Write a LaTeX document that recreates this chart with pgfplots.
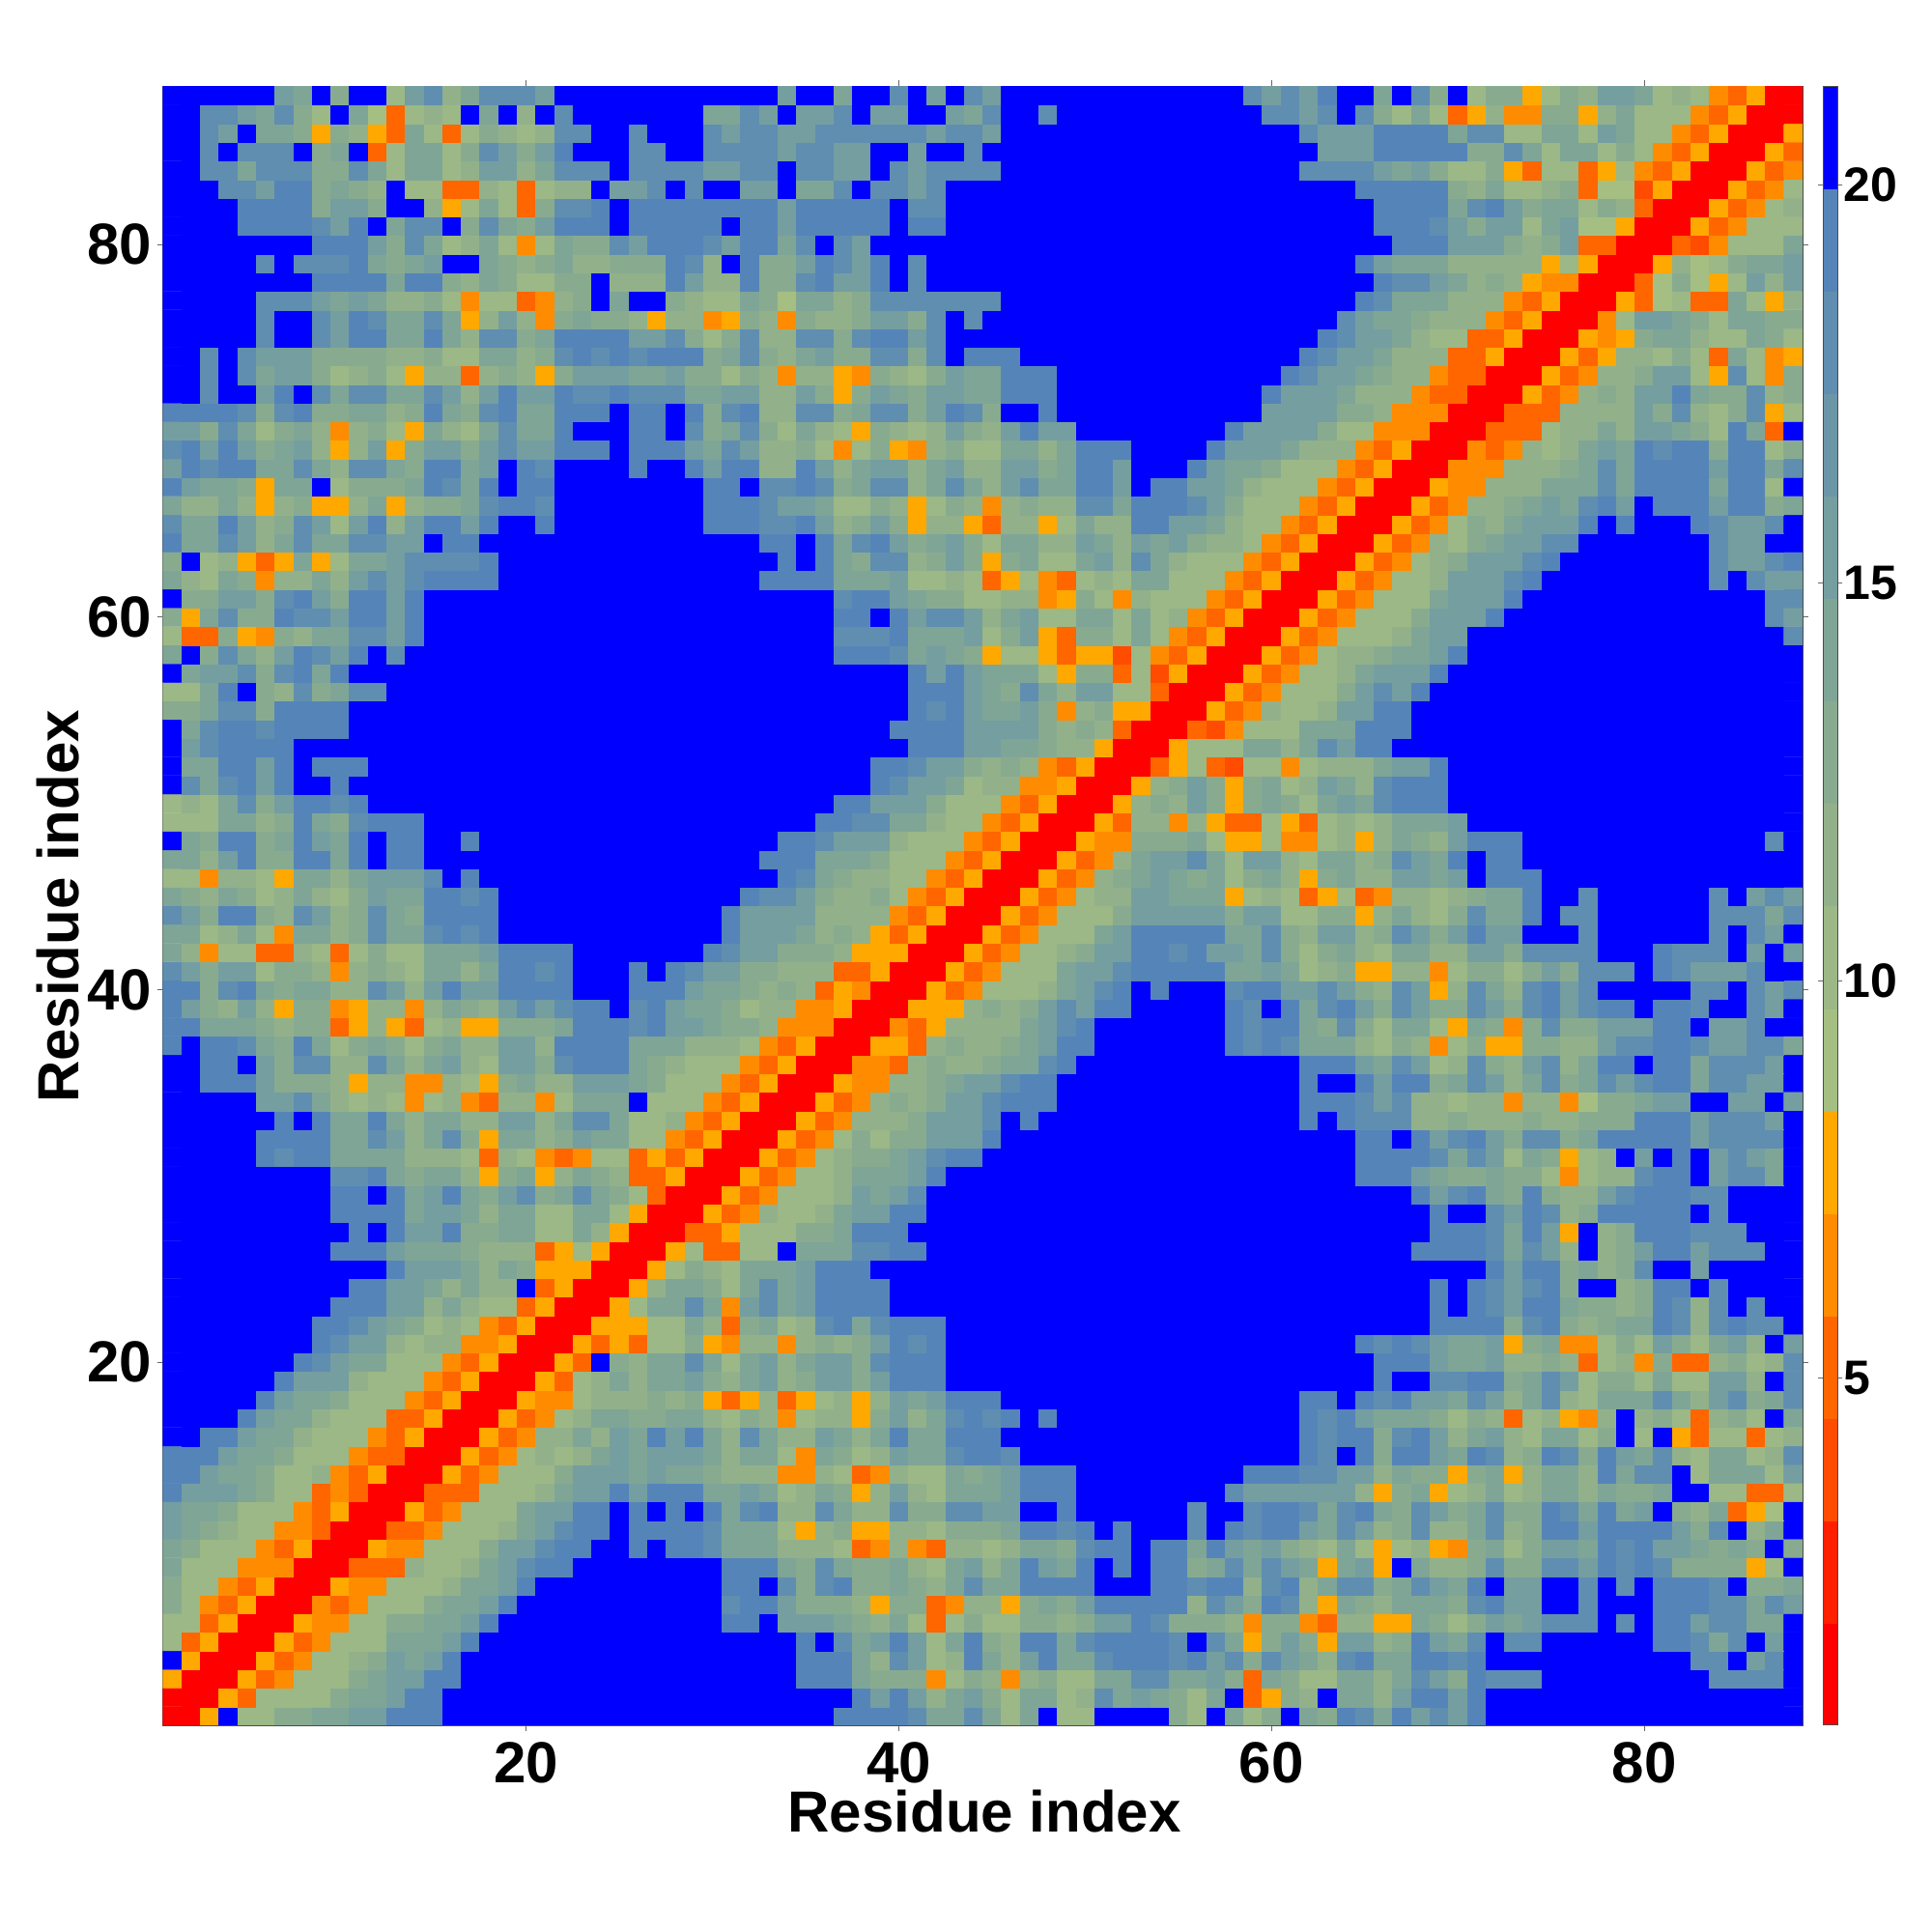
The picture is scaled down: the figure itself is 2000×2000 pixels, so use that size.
\documentclass[border=0pt]{standalone}
\usepackage{pgfplots}
\pgfplotsset{compat=1.18}
\usepackage{fontspec}
\setmainfont{Liberation Sans}

% the map is symmetric: each row y holds the distances for x=1..y
\newcount\ci
\def\setrow#1#2{\def\rowy{#1}\ci=0 \scanrow#2 {\relax} }
\def\scanrow#1 {\ifx\relax#1\else
  \advance\ci by1
  \expandafter\xdef\csname m\the\ci:\rowy\endcsname{#1}%
  \expandafter\scanrow\fi}

\setrow{88}{21 21 21 21 21 21 15 14 21 13 21 21 10 15 18 12 14 18 18 18 15 21 21 21 21 21 21 21 21 21 21 21 21 15 21 21 14 21 21 18 21 15 21 18 15 21 21 21 21 21 21 21 21 21 21 21 21 21 18 15 18 15 19 21 21 14 21 18 13 21 10 13 13 8 10 13 12 15 15 14 10 12 10 7 5 8 1 1}
\setrow{87}{21 21 18 18 15 14 18 13 10 21 14 9 5 10 12 10 21 14 21 12 21 18 21 21 21 21 21 21 21 14 14 18 15 21 15 15 18 21 15 15 21 21 15 14 18 21 21 18 21 21 21 21 21 21 21 21 21 21 21 18 18 15 18 21 18 13 10 14 10 5 8 12 7 7 13 13 8 12 14 10 10 10 7 5 8 1 1}
\setrow{86}{21 21 18 15 21 14 14 13 8 13 12 8 5 14 10 5 10 13 12 10 12 18 18 21 21 18 21 21 21 18 15 18 18 15 15 18 18 18 18 18 18 15 18 18 15 21 21 21 21 21 21 21 21 21 21 21 21 21 21 21 21 18 15 15 15 19 19 19 19 14 18 18 10 10 14 14 10 15 14 10 10 7 5 8 1 1}
\setrow{85}{21 21 18 21 18 18 18 21 13 14 21 5 10 14 14 10 13 18 15 13 15 19 21 21 21 18 18 21 21 18 18 18 18 15 18 18 15 15 21 21 15 21 21 18 21 21 21 21 21 21 21 21 21 21 21 21 21 21 21 21 21 21 15 15 15 19 19 19 19 19 13 13 18 14 10 14 14 10 13 10 7 5 8 1 1}
\setrow{84}{21 21 18 18 14 18 18 18 13 13 18 14 10 14 14 10 12 15 15 12 14 18 18 18 21 18 18 18 18 15 15 18 18 21 18 18 15 15 21 18 15 18 18 18 18 21 21 21 21 21 21 21 21 21 21 21 21 21 21 21 21 18 18 18 18 15 14 15 13 10 10 13 8 5 10 10 5 8 10 7 5 8 1 1}
\setrow{83}{21 21 21 18 18 15 19 19 13 14 13 12 21 10 10 5 5 12 10 5 10 12 12 21 15 15 18 21 18 21 21 15 15 21 14 14 18 21 18 18 15 18 21 21 21 21 21 21 21 21 21 21 21 21 21 21 21 21 21 21 21 21 21 21 19 19 19 19 19 13 12 14 10 10 12 13 5 9 9 4 8 1 1}
\setrow{82}{21 21 21 21 19 19 19 19 13 15 15 13 21 21 12 8 10 14 10 5 13 18 18 19 21 19 19 19 19 19 19 19 19 15 19 19 19 19 19 21 18 18 21 21 21 21 21 21 21 21 21 21 21 21 21 21 21 21 21 21 21 21 21 21 21 19 19 19 19 14 18 19 15 13 14 14 10 13 12 5 1 1}
\setrow{81}{21 21 21 21 19 19 19 19 18 15 19 21 14 18 18 21 13 18 14 13 15 19 19 19 21 19 19 19 19 19 21 19 19 15 19 19 19 19 19 21 19 19 21 21 21 21 21 21 21 21 21 21 21 21 21 21 21 21 21 21 21 21 21 21 21 19 19 19 18 15 13 15 15 10 14 15 9 9 8 1 1}
\setrow{80}{21 21 21 21 21 21 21 21 19 19 19 15 13 18 14 10 12 14 10 7 10 14 13 13 18 15 19 19 19 18 15 19 19 14 18 21 18 15 21 21 21 21 21 21 21 21 21 21 21 21 21 21 21 21 21 21 21 21 21 21 21 21 21 21 21 21 19 19 19 15 15 15 13 12 13 15 5 5 1 1}
\setrow{79}{21 21 21 21 21 18 21 18 18 18 19 14 13 14 15 21 21 14 13 12 13 14 12 12 13 13 13 19 18 12 21 19 13 13 15 19 18 15 19 21 18 21 21 21 21 21 21 21 21 21 21 21 21 21 21 21 21 21 21 21 21 21 21 21 19 15 14 14 14 12 12 12 12 12 8 10 8 1 1}
\setrow{78}{21 21 21 21 21 21 21 21 19 19 19 19 14 19 19 13 12 14 13 10 10 13 13 21 12 12 12 19 15 12 12 19 13 13 18 19 15 15 19 21 18 21 21 21 21 21 21 21 21 21 21 21 21 21 21 21 21 21 21 21 21 21 21 21 21 19 18 18 15 14 12 13 12 8 7 7 1 1}
\setrow{77}{21 21 21 21 21 18 18 18 15 14 15 14 12 12 13 10 7 10 10 5 7 12 13 21 14 21 21 13 12 10 10 14 13 9 14 14 12 13 18 18 18 18 18 18 18 21 21 21 21 21 21 21 21 21 21 21 21 21 21 21 21 21 21 21 19 18 14 14 14 12 12 12 7 5 8 1 1}
\setrow{76}{21 21 21 21 21 18 21 21 18 15 19 18 14 14 18 14 8 12 15 12 7 13 14 13 13 12 8 12 12 7 8 13 12 7 13 12 12 13 15 15 13 18 21 18 21 21 21 21 21 21 21 21 21 21 21 21 21 21 21 21 21 21 21 18 15 14 14 13 12 12 12 7 5 8 1 1}
\setrow{75}{21 21 21 21 21 18 21 21 18 15 19 19 14 14 19 14 12 18 18 13 14 19 19 19 19 15 15 18 13 10 13 18 12 12 18 18 13 18 19 19 15 18 21 21 21 21 21 21 21 21 21 21 21 21 21 21 21 21 21 21 21 21 19 18 15 15 14 12 10 10 5 5 8 1 1}
\setrow{74}{21 21 18 21 18 15 15 15 13 13 13 13 12 12 13 10 10 14 14 12 13 18 19 18 19 18 19 19 19 13 14 18 13 12 14 15 13 13 18 18 13 18 21 19 19 19 21 21 21 21 21 21 21 21 21 21 21 21 21 21 21 19 18 15 15 14 12 12 12 5 5 8 1 1}
\setrow{73}{21 21 18 21 18 14 15 15 13 10 12 13 10 8 12 12 5 12 13 12 8 13 15 15 15 14 14 15 13 13 10 13 12 7 12 12 8 7 13 12 10 13 15 14 14 19 19 19 21 21 21 21 21 21 21 21 21 21 21 21 19 18 15 15 14 13 12 12 7 5 5 1 1}
\setrow{72}{21 21 18 21 21 15 19 21 18 14 18 18 14 14 18 15 12 15 19 15 15 19 18 18 19 18 18 18 14 14 15 15 12 12 15 13 8 13 15 14 13 15 15 14 14 19 19 19 21 21 21 21 21 21 21 21 21 21 21 19 15 15 15 14 12 12 12 7 5 5 1 1}
\setrow{71}{19 19 19 19 18 13 18 19 13 13 14 14 12 13 19 14 13 18 19 14 14 19 19 19 21 19 19 21 19 13 18 19 12 12 18 18 13 14 18 18 13 15 19 18 13 21 21 19 21 21 21 21 21 21 21 21 21 21 21 15 15 15 15 13 13 12 7 7 7 1 1}
\setrow{70}{15 15 13 18 14 10 13 14 12 7 12 13 10 8 14 12 10 14 18 14 14 19 21 21 21 19 19 21 18 13 14 18 13 10 14 12 10 8 13 12 10 12 15 13 12 15 19 15 15 21 21 21 21 21 21 21 21 19 15 15 15 15 13 10 10 7 7 7 1 1}
\setrow{69}{18 19 15 19 15 13 14 15 12 8 12 15 8 13 15 15 13 15 18 15 15 19 19 19 21 19 19 19 15 14 18 15 12 12 13 10 7 10 13 8 7 12 13 10 10 14 14 12 14 19 19 19 21 21 21 21 19 15 15 15 14 12 12 12 7 5 8 1 1}
\setrow{68}{15 19 18 19 19 14 14 18 14 12 18 18 14 13 19 19 14 15 21 19 18 21 21 21 21 19 21 21 19 15 19 19 12 12 19 15 12 14 15 15 12 14 15 12 12 15 15 13 14 19 19 15 21 21 21 19 15 14 14 13 10 10 10 7 5 8 1 1}
\setrow{67}{19 15 14 14 13 8 14 14 21 10 13 13 13 14 19 18 14 19 21 19 19 21 21 21 21 21 21 21 21 19 19 21 18 18 19 18 13 14 18 18 12 14 18 14 12 15 18 14 14 19 19 15 21 19 19 15 15 14 12 10 10 10 7 5 8 1 1}
\setrow{66}{14 12 12 14 12 8 12 13 8 8 12 14 8 12 13 13 14 18 19 19 18 21 21 21 21 21 21 21 21 19 19 19 18 15 15 14 10 10 13 12 8 10 13 12 7 12 13 12 12 18 18 14 19 19 19 18 15 13 10 10 10 7 5 8 1 1}
\setrow{65}{18 14 14 19 15 12 13 18 15 10 15 19 12 15 19 19 15 19 21 21 19 21 21 21 21 21 21 21 21 19 19 19 18 18 19 15 12 13 15 13 8 12 12 8 5 12 12 8 10 14 12 12 19 19 15 15 14 12 10 10 7 5 8 1 1}
\setrow{64}{19 14 14 18 15 12 14 18 14 14 18 18 15 15 21 19 19 21 21 21 21 21 21 21 21 21 21 21 21 21 21 21 19 19 21 19 14 18 19 15 13 14 15 13 10 14 14 12 12 15 14 12 15 14 15 13 12 12 10 7 5 8 1 1}
\setrow{63}{13 21 10 12 8 5 8 14 8 10 14 14 15 18 18 18 18 19 21 21 21 21 21 21 21 21 21 21 21 21 21 21 21 19 21 19 14 13 18 18 12 13 15 13 8 13 14 10 10 14 15 12 18 14 12 10 10 10 7 5 8 1 1}
\setrow{62}{14 12 10 14 13 7 12 12 14 12 15 18 15 18 19 19 19 19 21 21 21 21 21 21 21 21 21 21 21 21 21 21 19 19 19 19 14 14 14 15 10 10 12 10 5 8 10 7 5 10 12 10 14 14 10 10 10 7 5 8 1 1}
\setrow{61}{21 13 13 15 15 13 18 19 15 13 19 19 15 19 21 21 21 21 21 21 21 21 21 21 21 21 21 21 21 21 21 21 21 21 21 21 18 19 19 15 14 13 13 10 10 12 12 7 8 13 10 7 12 10 10 10 7 5 8 1 1}
\setrow{60}{13 8 14 18 13 13 19 18 18 15 19 19 15 19 21 21 21 21 21 21 21 21 21 21 21 21 21 21 21 21 21 21 21 21 21 21 19 19 21 19 15 18 18 15 12 14 15 10 10 14 14 10 14 10 12 7 5 8 1 1}
\setrow{59}{10 5 5 13 8 7 13 12 14 14 18 18 15 19 21 21 21 21 21 21 21 21 21 21 21 21 21 21 21 21 21 21 21 21 21 21 18 18 18 19 14 14 14 15 10 13 15 8 5 13 13 10 14 10 7 5 8 1 1}
\setrow{58}{14 21 13 18 14 12 15 19 18 15 19 21 18 21 21 21 21 21 21 21 21 21 21 21 21 21 21 21 21 21 21 21 21 21 21 21 19 19 19 18 14 15 14 13 8 10 10 8 5 8 8 4 10 7 5 8 1 1}
\setrow{57}{21 14 15 15 18 13 18 19 14 19 21 21 21 21 21 21 21 21 21 21 21 21 21 21 21 21 21 21 21 21 21 21 21 21 21 21 21 21 21 21 19 15 19 15 14 14 14 10 8 13 13 5 10 4 8 1 1}
\setrow{56}{10 10 14 19 21 13 12 18 13 14 18 18 21 21 21 21 21 21 21 21 21 21 21 21 21 21 21 21 21 21 21 21 21 21 21 21 21 21 21 21 19 19 19 15 14 13 18 14 12 15 15 10 10 5 1 1}
\setrow{55}{13 13 14 18 18 13 19 19 19 19 21 21 21 21 21 21 21 21 21 21 21 21 21 21 21 21 21 21 21 21 21 21 21 21 21 21 21 21 21 21 19 18 19 15 14 14 15 13 7 12 13 8 8 1 1}
\setrow{54}{21 14 18 19 19 18 19 19 19 19 21 21 21 21 21 21 21 21 21 21 21 21 21 21 21 21 21 21 21 21 21 21 21 21 21 21 21 21 21 19 19 19 19 15 15 15 15 13 12 13 12 5 1 1}
\setrow{53}{21 15 18 19 19 19 19 21 21 21 21 21 21 21 21 21 21 21 21 21 21 21 21 21 21 21 21 21 21 21 21 21 21 21 21 21 21 21 21 21 19 19 19 15 15 14 14 13 12 12 8 1 1}
\setrow{52}{21 14 14 19 19 15 19 21 19 19 19 21 21 21 21 21 21 21 21 21 21 21 21 21 21 21 21 21 21 21 21 21 21 21 21 21 21 21 19 19 18 15 15 13 12 13 12 7 5 8 1 1}
\setrow{51}{21 18 14 18 19 15 19 21 21 19 21 21 21 21 21 21 21 21 21 21 21 21 21 21 21 21 21 21 21 21 21 21 21 21 21 21 21 21 19 18 15 15 14 10 12 12 7 7 8 1 1}
\setrow{50}{10 12 10 14 18 13 15 19 19 18 19 21 21 21 21 21 21 21 21 21 21 21 21 21 21 21 21 21 21 21 21 21 21 21 21 21 19 19 15 15 15 13 10 10 10 7 5 8 1 1}
\setrow{49}{10 10 10 14 14 12 13 19 14 13 18 19 19 19 21 21 21 21 21 21 21 21 21 21 21 21 21 21 21 21 21 21 21 21 21 19 19 18 18 14 14 12 10 10 7 5 8 1 1}
\setrow{48}{21 14 13 19 19 13 14 19 15 14 19 21 19 19 21 21 19 21 21 21 21 21 21 21 21 21 21 21 21 21 21 21 21 19 19 18 15 15 15 12 10 10 10 7 5 8 1 1}
\setrow{47}{14 14 12 15 19 13 13 19 19 14 19 21 19 19 21 21 21 21 21 21 21 21 21 21 21 21 21 21 21 21 21 21 19 19 19 14 14 14 13 10 10 10 7 5 8 1 1}
\setrow{46}{10 10 7 12 12 10 8 14 14 12 14 15 15 15 18 21 19 21 21 21 21 21 21 21 21 21 21 21 21 21 21 21 21 19 18 14 13 12 12 10 10 7 5 8 1 1}
\setrow{45}{14 13 12 14 13 10 12 14 12 10 13 15 14 14 19 19 18 19 21 21 21 21 21 21 21 21 21 21 21 21 21 19 18 18 15 13 12 12 13 10 7 5 8 1 1}
\setrow{44}{18 15 13 19 19 13 12 18 15 12 13 18 14 13 19 19 19 19 21 21 21 21 21 21 21 21 21 21 21 21 19 15 15 15 15 12 12 12 12 7 5 8 1 1}
\setrow{43}{14 14 10 12 14 10 7 14 14 12 13 18 14 14 18 19 18 19 21 21 21 21 21 21 21 21 21 21 21 21 19 15 15 15 14 12 13 12 8 5 8 1 1}
\setrow{42}{14 12 7 10 10 5 5 12 10 5 10 13 10 10 14 14 14 15 19 19 19 19 21 21 21 21 21 21 21 19 18 15 15 13 13 13 12 8 8 8 1 1}
\setrow{41}{18 15 13 15 15 10 13 13 12 7 12 13 12 10 14 14 12 14 19 19 18 19 21 21 21 19 21 19 18 15 15 13 13 12 12 12 5 5 8 1 1}
\setrow{40}{19 19 13 18 19 14 13 14 14 12 12 18 15 12 15 19 15 15 19 19 19 19 21 21 21 19 19 19 15 14 14 13 12 13 12 5 8 7 1 1}
\setrow{39}{19 15 13 12 15 12 8 13 13 7 8 12 12 7 12 14 13 12 15 18 15 18 19 19 21 18 19 15 14 14 13 10 12 12 7 7 8 1 1}
\setrow{38}{19 19 14 14 14 13 12 13 13 5 8 12 8 5 10 12 8 8 13 13 13 14 19 19 19 18 19 15 15 14 13 13 12 7 7 7 1 1}
\setrow{37}{19 21 19 19 18 14 13 19 14 10 13 14 13 10 13 14 12 12 15 15 12 19 19 19 19 14 14 14 12 12 12 10 7 5 8 1 1}
\setrow{36}{21 21 19 19 21 15 13 18 18 12 12 18 14 12 14 15 12 10 15 15 13 18 19 19 19 14 13 12 10 10 10 7 5 8 1 1}
\setrow{35}{21 21 19 19 19 15 13 13 13 12 8 12 12 7 7 12 10 8 13 14 12 12 15 15 15 14 13 10 10 10 7 5 8 1 1}
\setrow{34}{21 21 21 21 21 15 15 18 14 12 10 12 10 7 10 12 7 5 12 12 7 10 14 14 14 21 10 10 10 7 5 8 1 1}
\setrow{33}{21 21 21 21 21 21 19 21 19 14 14 19 14 12 14 14 12 12 15 15 12 14 18 18 14 10 10 12 7 5 8 1 1}
\setrow{32}{21 21 21 21 21 19 19 19 19 14 14 18 15 12 14 18 13 8 14 14 12 13 15 14 14 10 10 7 5 8 1 1}
\setrow{31}{21 21 21 21 21 19 18 19 19 14 14 14 14 12 12 12 10 5 12 10 7 5 7 10 10 5 8 5 8 1 1}
\setrow{30}{21 21 21 21 21 21 21 21 21 18 18 19 14 13 14 14 12 8 13 14 8 12 14 13 12 5 5 8 1 1}
\setrow{29}{21 21 21 21 21 21 21 21 21 19 19 21 19 14 15 19 14 13 15 18 13 14 18 14 13 10 5 1 1}
\setrow{28}{21 21 21 21 21 21 21 21 21 19 19 19 19 14 15 15 14 12 14 14 10 10 14 14 10 8 1 1}
\setrow{27}{21 21 21 21 21 21 21 21 21 21 19 21 19 15 15 19 13 13 14 14 10 10 14 12 8 1 1}
\setrow{26}{21 21 21 21 21 21 21 21 21 19 19 19 15 14 14 14 13 12 12 12 5 8 10 8 1 1}
\setrow{25}{21 21 21 21 21 21 21 21 21 21 21 21 19 15 15 15 14 12 14 13 8 8 8 1 1}
\setrow{24}{21 21 21 21 21 21 21 21 21 21 19 19 15 15 14 12 14 12 12 21 5 8 1 1}
\setrow{23}{21 21 21 21 21 21 21 21 21 19 19 19 15 15 12 14 12 10 10 5 8 1 1}
\setrow{22}{21 21 21 21 21 21 21 21 19 19 18 15 14 13 10 12 10 7 5 8 1 1}
\setrow{21}{21 21 21 21 21 21 21 21 19 18 15 15 12 10 12 12 7 7 8 1 1}
\setrow{20}{21 21 21 21 21 21 21 19 18 15 14 14 10 10 10 7 5 8 1 1}
\setrow{19}{21 21 21 21 21 21 19 15 15 15 12 10 10 10 7 5 8 1 1}
\setrow{18}{21 21 21 21 21 19 15 14 14 13 10 10 10 7 5 8 1 1}
\setrow{17}{21 21 21 21 19 15 14 14 12 10 10 10 5 5 8 1 1}
\setrow{16}{21 21 19 19 15 14 14 12 10 10 10 7 5 8 1 1}
\setrow{15}{19 19 19 15 14 14 13 10 10 10 7 5 5 1 1}
\setrow{14}{19 19 15 14 14 13 10 10 12 7 5 8 1 1}
\setrow{13}{19 15 15 15 14 13 10 10 5 7 5 1 1}
\setrow{12}{15 14 14 13 10 10 10 7 5 8 1 1}
\setrow{11}{15 14 13 12 10 10 7 7 5 1 1}
\setrow{10}{14 13 10 10 10 7 5 8 1 1}
\setrow{9}{14 10 10 10 7 7 7 1 1}
\setrow{8}{13 10 10 7 5 8 1 1}
\setrow{7}{13 10 7 5 8 1 1}
\setrow{6}{10 10 5 8 1 1}
\setrow{5}{10 5 8 1 1}
\setrow{4}{21 8 1 1}
\setrow{3}{8 1 1}
\setrow{2}{1 1}
\setrow{1}{1}

\gdef\allcells{}
\foreach \yy in {1,...,88}{%
  \gdef\rowcells{}%
  \foreach \xx in {1,...,88}{%
    \ifnum\xx>\yy
      \xdef\val{\csname m\yy:\xx\endcsname}%
    \else
      \xdef\val{\csname m\xx:\yy\endcsname}%
    \fi
    \xdef\rowcells{\rowcells(\xx,\yy)[\val]}%
  }%
  \xdef\allcells{\allcells\rowcells}%
}

\def\plotcells#1{\addplot[matrix plot*, mesh/cols=88, mesh/ordering=x varies, point meta=explicit] coordinates {#1};}

\begin{document}
\begin{tikzpicture}
\path[use as bounding box] (0,0) rectangle (2000pt,2000pt);
\begin{axis}[
  at={(168.7pt,214pt)}, anchor=south west,
  scale only axis, width=1697.3pt, height=1696.6pt,
  xmin=0.5, xmax=88.5, ymin=0.5, ymax=88.5,
  xtick={20,40,60,80}, ytick={20,40,60,80},
  minor tick num=0,
  tick align=outside, major tick length=6pt,
  tick style={line width=0.8pt, color=black!60},
  axis line style={line width=1.2pt, color=black!70},
  /pgf/number format/assume math mode=true,
  tick label style={font=\fontsize{60}{60}\selectfont\bfseries},
  xticklabel style={yshift=-8pt},
  yticklabel style={xshift=-2pt},
  xlabel={Residue index}, ylabel={Residue index},
  label style={font=\fontsize{60}{60}\selectfont\bfseries},
  xlabel style={at={(axis description cs:0.501,-0.0527)}, anchor=center},
  ylabel style={at={(axis description cs:-0.064,0.4995)}, anchor=center},
  colormap={contactmap}{
    rgb255=(255,0,0) rgb255=(255,32,0) rgb255=(255,76,0) rgb255=(255,102,0)
    rgb255=(255,140,0) rgb255=(255,168,0) rgb255=(165,191,130) rgb255=(155,184,134)
    rgb255=(146,177,138) rgb255=(136,171,144) rgb255=(127,165,151) rgb255=(117,158,160)
    rgb255=(107,150,168) rgb255=(95,142,176) rgb255=(85,133,184) rgb255=(0,0,255)},
  colormap access=piecewise constant,
  point meta min=0.64, point meta max=21.24,
  colorbar sampled,
  colorbar shift/.style={xshift=15pt},
  colorbar style={
    samples=17, width=15pt,
    ytick={5,10,15,20}, minor tick num=0,
    tick align=outside, major tick length=5pt,
    tick style={line width=0.8pt, color=black!60},
    axis line style={line width=1pt, color=black!70},
    /pgf/number format/assume math mode=true,
    yticklabel style={font=\fontsize{50}{50}\selectfont\bfseries, xshift=-2pt},
  },
]
\expandafter\plotcells\expandafter{\allcells}
\end{axis}
\end{tikzpicture}
\end{document}
